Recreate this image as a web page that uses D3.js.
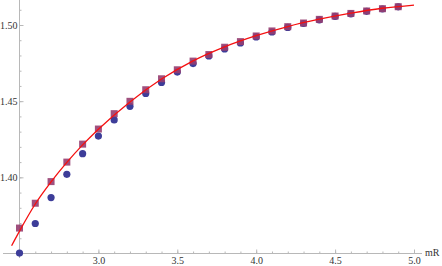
<!DOCTYPE html>
<html>
<head>
<meta charset="utf-8">
<script src="https://cdn.jsdelivr.net/npm/d3@7"></script>
<style>
  body { margin: 0; background: #fff; }
  .axis path, .axis line { stroke: #b8b8b8; }
</style>
</head>
<body>
<div id="chart"></div>
<script>
// data
var xs = [2.5, 2.6, 2.7, 2.8, 2.9, 3.0, 3.1, 3.2, 3.3, 3.4, 3.5, 3.6, 3.7, 3.8, 3.9, 4.0, 4.1, 4.2, 4.3, 4.4, 4.5, 4.6, 4.7, 4.8, 4.9]
var circleVals = [1.3503, 1.3697, 1.3867, 1.4020, 1.4155, 1.4271, 1.4377, 1.4466, 1.4551, 1.4623, 1.4691, 1.4747, 1.4797,
  1.4843, 1.4882, 1.4922, 1.4954, 1.4984, 1.5010, 1.5033, 1.5056, 1.5073, 1.5090, 1.5105, 1.5119]
var squareVals = [1.3667, 1.3830, 1.3972, 1.4100, 1.4218, 1.4317, 1.4418, 1.4499, 1.4575, 1.4647, 1.4706, 1.4763, 1.4806,
  1.4854, 1.4891, 1.4928, 1.4961, 1.4989, 1.5013, 1.5037, 1.5059, 1.5076, 1.5092, 1.5107, 1.5120]
var lineX = [2.45, 2.5, 2.6, 2.7, 2.8, 2.9, 3.0, 3.2, 3.4, 3.6, 3.8, 4.0, 4.2, 4.4, 4.6, 4.8, 5.0]
var lineY = [1.3551, 1.3647, 1.3825, 1.3970, 1.4098, 1.4213, 1.4316, 1.4495, 1.4645, 1.4765, 1.4857, 1.4930, 1.4990,
  1.5038, 1.5078, 1.5110, 1.5131]
var xTicks = [3.0, 3.5, 4.0, 4.5, 5.0]
var yTicks = [1.40, 1.45, 1.50]

var width = 442
var height = 266
var serif = '"Liberation Serif", "Times New Roman", serif'

var svg = d3.select('#chart')
  .append('svg')
  .attr('width', width)
  .attr('height', height)

var x = d3.scaleLinear().domain([2.5, 5.0]).range([19.5, 414])
var y = d3.scaleLinear().domain([1.35, 1.50]).range([253.5, 25])

// minor ticks
var xMinor = d3.range(25, 51).map(d => d / 10)
var yMinor = d3.range(135, 152).map(d => d / 100)

svg.append('g')
  .attr('class', 'axis')
  .attr('transform', `translate(0, ${y(1.35)})`)
  .call(d3.axisBottom(x).tickValues(xMinor).tickSize(-2).tickFormat('').tickSizeOuter(0))
  .select('.domain').remove()

svg.append('g')
  .attr('class', 'axis')
  .attr('transform', `translate(${x(2.5)}, 0)`)
  .call(d3.axisLeft(y).tickValues(yMinor).tickSize(-2).tickFormat('').tickSizeOuter(0))
  .select('.domain').remove()

// major ticks + labels
var xAxis = svg.append('g')
  .attr('class', 'axis')
  .attr('transform', `translate(0, ${y(1.35)})`)
  .call(d3.axisBottom(x).tickValues(xTicks).tickSize(-4).tickPadding(3).tickFormat(d3.format('.1f')))
  .attr('font-family', serif)
  .attr('font-size', 10)
xAxis.select('.domain').remove()
xAxis.selectAll('text').attr('y', 3).attr('dy', '0.78em').attr('fill', '#333')

var yAxis = svg.append('g')
  .attr('class', 'axis')
  .attr('transform', `translate(${x(2.5)}, 0)`)
  .call(d3.axisLeft(y).tickValues(yTicks).tickSize(-4).tickFormat(d3.format('.2f')))
  .attr('font-family', serif)
  .attr('font-size', 10)
yAxis.select('.domain').remove()
yAxis.selectAll('text').attr('x', -2).attr('fill', '#333')

// axis lines
svg.append('line')
  .attr('x1', 3).attr('x2', 422)
  .attr('y1', y(1.35)).attr('y2', y(1.35))
  .attr('stroke', '#b8b8b8')
svg.append('line')
  .attr('x1', x(2.5)).attr('x2', x(2.5))
  .attr('y1', 0).attr('y2', 258)
  .attr('stroke', '#b8b8b8')

svg.append('text')
  .attr('x', 425)
  .attr('y', 256)
  .attr('font-family', serif)
  .attr('font-size', 10)
  .attr('fill', '#333')
  .text('mR')

// points
var circles = xs.map((d, i) => ({ x: d, y: circleVals[i] }))
var squares = xs.map((d, i) => ({ x: d, y: squareVals[i] }))

svg.selectAll('circle.pt')
  .data(circles)
  .enter()
  .append('circle')
  .attr('class', 'pt')
  .attr('cx', d => x(d.x))
  .attr('cy', d => y(d.y))
  .attr('r', 3.6)
  .attr('fill', '#3d3d99')

svg.selectAll('rect.pt')
  .data(squares)
  .enter()
  .append('rect')
  .attr('class', 'pt')
  .attr('x', d => x(d.x) - 3.5)
  .attr('y', d => y(d.y) - 3.5)
  .attr('width', 7)
  .attr('height', 7)
  .attr('fill', '#963d70')
  .attr('fill-opacity', 0.9)

// fitted line
var line = d3.line()
  .x(d => x(d[0]))
  .y(d => y(d[1]))
  .curve(d3.curveMonotoneX)

svg.append('path')
  .datum(lineX.map((d, i) => [d, lineY[i]]))
  .attr('d', line)
  .attr('fill', 'none')
  .attr('stroke', '#f51010')
  .attr('stroke-width', 1.3)
</script>
</body>
</html>
